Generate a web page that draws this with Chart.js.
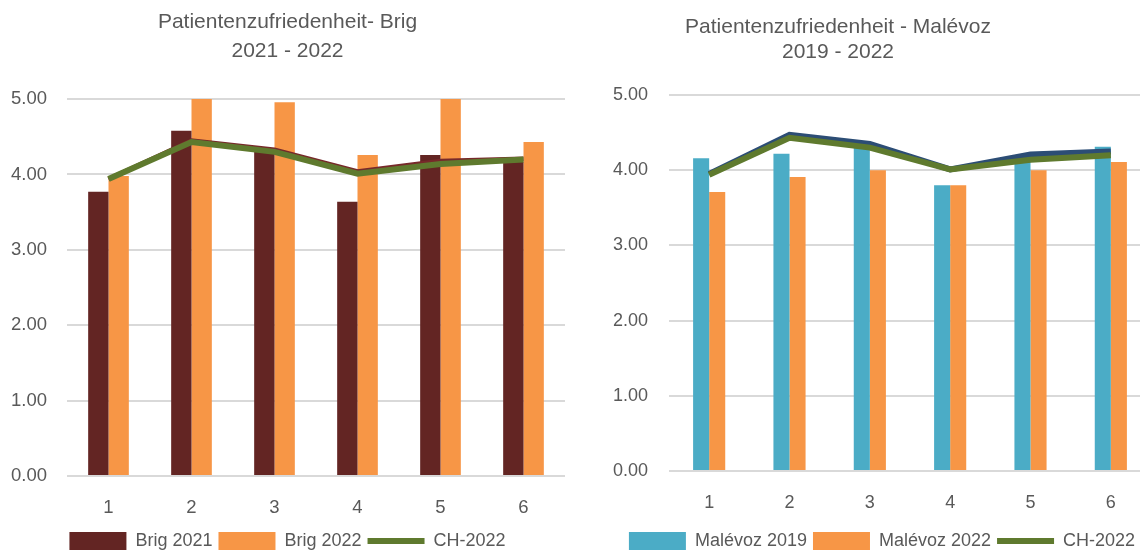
<!DOCTYPE html>
<html>
<head>
<meta charset="utf-8">
<script src="https://cdn.jsdelivr.net/npm/chart.js@4.4.1/dist/chart.umd.min.js"></script>
<style>
  html, body { margin: 0; padding: 0; background: #fff; width: 1140px; height: 550px; overflow: hidden; }
  .box { position: absolute; top: 0; }
</style>
</head>
<body>
<div class="box" style="left:0;width:590px;height:560px"><canvas id="brig" width="590" height="560"></canvas></div>
<div class="box" style="left:590px;width:607px;height:560px"><canvas id="malevoz" width="607" height="560"></canvas></div>
<script>
// categories (question numbers)
const categories = ["1", "2", "3", "4", "5", "6"]

// Brig
const brig2021 = [3.77, 4.58, 4.30, 3.64, 4.26, 4.17]
const brig2022 = [3.98, 5.00, 4.96, 4.26, 5.00, 4.43]
// Malévoz
const malevoz2019 = [4.16, 4.22, 4.30, 3.80, 4.13, 4.31]
const malevoz2022 = [3.71, 3.91, 4.00, 3.80, 4.00, 4.11]
// Swiss average lines
const ch2022 = [3.94, 4.43, 4.30, 4.01, 4.14, 4.20]
const ch2021 = [3.94, 4.45, 4.33, 4.04, 4.18, 4.21]   // drawn behind, not in legend
const ch2019 = [3.95, 4.47, 4.35, 4.01, 4.21, 4.25]   // drawn behind, not in legend

const yMin = 0
const yMax = 5

const FONT = "'Liberation Sans', Arial, sans-serif"
const TEXT = "#595959"
const GRID = "#d9d9d9"

// move the title to a given x centre (the right chart's title is not centred on the canvas)
const titleShift = {
  id: "titleShift",
  afterLayout(chart, args, opts) {
    const t = chart.titleBlock
    if (!t || opts.centerX == null) return
    const w = chart.width
    t.left = opts.centerX - w / 2
    t.right = opts.centerX + w / 2
  }
}

function barSet(label, data, color) {
  return {type: "bar", label, data, backgroundColor: color, borderWidth: 0, order: 3, pointStyle: "rect"}
}

function lineSet(label, data, color, width, order, inLegend) {
  return {
    type: "line", label, data, borderColor: color, backgroundColor: color,
    borderWidth: width, pointRadius: 0, pointHoverRadius: 0, tension: 0,
    fill: false, order, inLegend, pointStyle: "line"
  }
}

function makeChart(id, s) {
  return new Chart(document.getElementById(id), {
    type: "bar",
    data: {labels: categories, datasets: s.datasets},
    plugins: [titleShift],
    options: {
      responsive: false,
      animation: false,
      layout: {padding: {left: s.padLeft, right: s.padRight, top: 0, bottom: 0}},
      datasets: {bar: {categoryPercentage: s.catPct, barPercentage: 1}},
      plugins: {
        tooltip: {enabled: false},
        titleShift: {centerX: s.titleX},
        title: {
          display: true,
          text: s.title,
          color: TEXT,
          font: {family: FONT, size: s.titleSize, weight: "normal", lineHeight: s.titleLH},
          padding: {top: s.titleTop, bottom: s.titleBottom}
        },
        legend: {
          position: "bottom",
          labels: {
            usePointStyle: true,
            pointStyleWidth: 57,
            boxWidth: 57,
            boxHeight: 18,
            padding: 6,
            color: TEXT,
            font: {family: FONT, size: 18},
            generateLabels(chart) {
              const items = Chart.defaults.plugins.legend.labels.generateLabels(chart)
              return items
                .filter(it => chart.data.datasets[it.datasetIndex].inLegend !== false)
                .sort((a, b) => a.datasetIndex - b.datasetIndex)
                .map(it => {
                  const ds = chart.data.datasets[it.datasetIndex]
                  it.pointStyle = ds.type === "line" ? "line" : "rect"
                  return it
                })
            }
          }
        }
      },
      scales: {
        x: {
          grid: {display: false, drawTicks: false},
          border: {display: false},
          ticks: {color: TEXT, font: {family: FONT, size: s.tickSize}, padding: 21},
          afterFit: sc => { sc.height = s.xHeight }
        },
        y: {
          min: yMin,
          max: yMax,
          grid: {color: GRID, lineWidth: 2, drawTicks: false},
          border: {display: false},
          ticks: {
            stepSize: 1,
            color: TEXT,
            font: {family: FONT, size: s.tickSize},
            padding: s.yPad,
            callback: v => Number(v).toFixed(2)
          },
          afterFit: sc => { sc.width = s.yWidth }
        }
      }
    }
  })
}

makeChart("brig", {
  title: ["Patientenzufriedenheit- Brig", "2021 - 2022"],
  titleSize: 21, titleLH: 1.36, titleTop: 8, titleBottom: 34,
  titleX: null,
  tickSize: 18.5,
  padLeft: 10, padRight: 25,
  yWidth: 57, yPad: 20, xHeight: 50,
  catPct: 0.49,
  datasets: [
    barSet("Brig 2021", brig2021, "#632523"),
    barSet("Brig 2022", brig2022, "#f79646"),
    lineSet("CH-2022", ch2022, "#5f7a2e", 6, 0, true),
    lineSet("CH-2021", ch2021, "#77292a", 4.5, 1, false)
  ]
})

makeChart("malevoz", {
  title: ["Patientenzufriedenheit - Malévoz", "2019 - 2022"],
  titleSize: 21, titleLH: 1.19, titleTop: 14.5, titleBottom: 30.5,
  titleX: 248,
  tickSize: 18,
  padLeft: 23, padRight: 46,
  yWidth: 56, yPad: 21, xHeight: 55,
  catPct: 0.40,
  datasets: [
    barSet("Malévoz 2019", malevoz2019, "#4bacc6"),
    barSet("Malévoz 2022", malevoz2022, "#f79646"),
    lineSet("CH-2022", ch2022, "#5f7a2e", 6, 0, true),
    lineSet("CH-2019", ch2019, "#2c4d75", 6, 1, false)
  ]
})
</script>
</body>
</html>
